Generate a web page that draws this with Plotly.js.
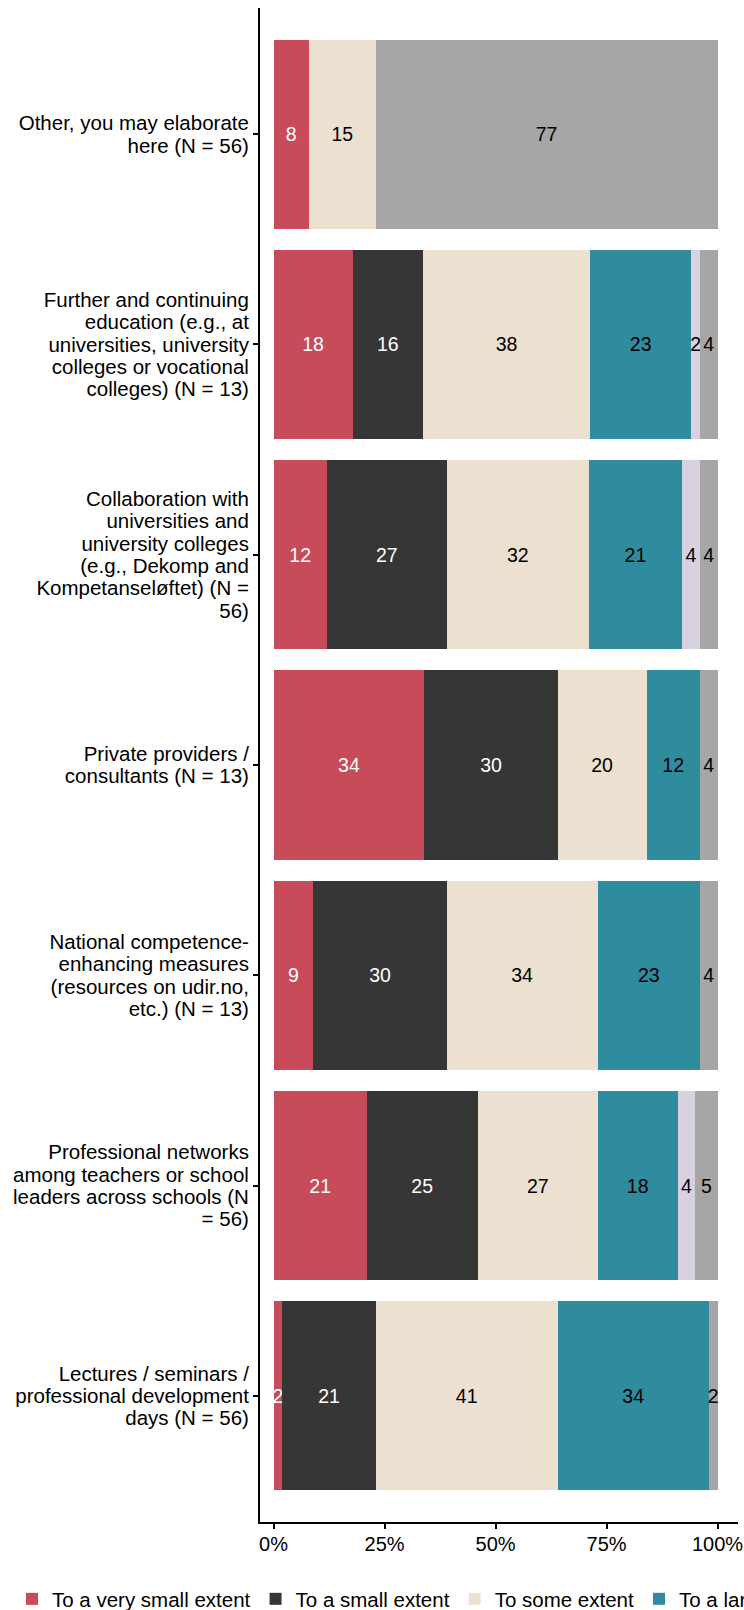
<!DOCTYPE html>
<html>
<head>
<meta charset="utf-8">
<script src="https://cdn.plot.ly/plotly-3.0.1.min.js"></script>
<style>
  html, body { margin: 0; padding: 0; overflow: hidden; background: #ffffff; }
  #chart { width: 3000px; height: 1610px; }
</style>
</head>
<body>
<div id="chart"></div>
<script>
// Categories, top to bottom as in the chart
const categories = [
  "Other, you may elaborate<br>here (N = 56)",
  "Further and continuing<br>education (e.g., at<br>universities, university<br>colleges or vocational<br>colleges) (N = 13)",
  "Collaboration with<br>universities and<br>university colleges<br>(e.g., Dekomp and<br>Kompetanseløftet) (N =<br>56)",
  "Private providers /<br>consultants (N = 13)",
  "National competence-<br>enhancing measures<br>(resources on udir.no,<br>etc.) (N = 13)",
  "Professional networks<br>among teachers or school<br>leaders across schools (N<br>= 56)",
  "Lectures / seminars /<br>professional development<br>days (N = 56)"
];

const levels = [
  "To a very small extent",
  "To a small extent",
  "To some extent",
  "To a large extent",
  "To a very large extent",
  "Don't know"
];

// Percentages shown in the bars (null = no segment)
const veryLittle   = [8, 18, 12, 34, 9, 21, 2];
const little       = [null, 16, 27, 30, 30, 25, 21];
const some         = [15, 38, 32, 20, 34, 27, 41];
const large        = [null, 23, 21, 12, 23, 18, 34];
const veryLarge    = [null, 2, 4, null, null, 4, null];
const dontKnow     = [77, 4, 4, 4, 4, 5, 2];

const xTickValues = [0, 25, 50, 75, 100];
const xTickLabels = ["0%", "25%", "50%", "75%", "100%"];

const seriesValues = [veryLittle, little, some, large, veryLarge, dontKnow];
const colors = ["#C84B5A", "#363636", "#ECE0D0", "#2E8C9E", "#D8D2E0", "#A6A6A6"];
const textColors = ["#ffffff", "#ffffff", "#000000", "#000000", "#000000", "#000000"];

const FONT = '"Liberation Sans", Arial, sans-serif';

const traces = seriesValues.map((vals, i) => ({
  type: "bar",
  orientation: "h",
  name: levels[i],
  y: categories,
  x: vals,
  text: vals.map(v => v == null ? "" : String(v)),
  texttemplate: "%{text}",
  textposition: "inside",
  insidetextanchor: "middle",
  textangle: 0,
  constraintext: "none",
  insidetextfont: { family: FONT, size: 19.5, color: textColors[i] },
  marker: { color: colors[i], line: { width: 0 } },
  hoverinfo: "skip",
  cliponaxis: false
}));

const W = 3000, H = 1610;
const plotL = 260, plotR = 738, plotT = 8, plotB = 1522;
const plotW = plotR - plotL, plotH = plotB - plotT;

const layout = {
  width: W,
  height: H,
  margin: { l: plotL, r: W - plotR, t: plotT, b: H - plotB, pad: 0, autoexpand: false },
  barmode: "stack",
  barnorm: "percent",
  bargap: 0.1,
  paper_bgcolor: "#ffffff",
  plot_bgcolor: "#ffffff",
  font: { family: FONT, size: 20, color: "#000000" },
  xaxis: {
    range: [-3.04, 104.6],
    tickmode: "array",
    tickvals: xTickValues,
    ticktext: xTickLabels,
    showgrid: false,
    zeroline: false,
    showline: true,
    linecolor: "#000000",
    linewidth: 2,
    ticks: "outside",
    ticklen: 5,
    tickwidth: 2,
    tickcolor: "#000000",
    ticklabelstandoff: -2,
    tickfont: { size: 20, color: "#000000" },
    fixedrange: true
  },
  yaxis: {
    type: "category",
    categoryorder: "array",
    categoryarray: categories,
    range: [6.6, -0.6],
    showgrid: false,
    zeroline: false,
    showline: true,
    linecolor: "#000000",
    linewidth: 2,
    ticks: "outside",
    ticklen: 5,
    tickwidth: 2,
    tickcolor: "#000000",
    tickfont: { size: 20.5, color: "#000000" },
    fixedrange: true
  },
  showlegend: true,
  legend: {
    orientation: "h",
    xref: "paper",
    x: (12 - plotL) / plotW,
    xanchor: "left",
    yref: "container",
    y: (H - 1579) / H,
    yanchor: "top",
    font: { size: 20.5, color: "#000000" },
    traceorder: "normal",
    bgcolor: "rgba(0,0,0,0)"
  }
};

Plotly.newPlot("chart", traces, layout, { displayModeBar: false, staticPlot: true }).then(gd => {
  // tighten the line spacing of the multi-line category labels
  const LINE = 1.09, PLOTLY_LINE = 1.3;
  gd.querySelectorAll("g.ytick text").forEach(t => {
    const lines = Array.from(t.querySelectorAll("tspan.line"));
    if (lines.length < 2) return;
    const b0 = t.getBBox();
    const c0 = b0.y + b0.height / 2;
    lines.forEach(ts => {
      const dy = parseFloat(ts.getAttribute("dy") || "0");
      if (dy) ts.setAttribute("dy", (dy * LINE / PLOTLY_LINE) + "em");
    });
    const b1 = t.getBBox();
    const shift = c0 - (b1.y + b1.height / 2);
    [t].concat(lines).forEach(el => {
      const y = parseFloat(el.getAttribute("y") || "0");
      el.setAttribute("y", y + shift);
    });
  });
});
</script>
</body>
</html>
